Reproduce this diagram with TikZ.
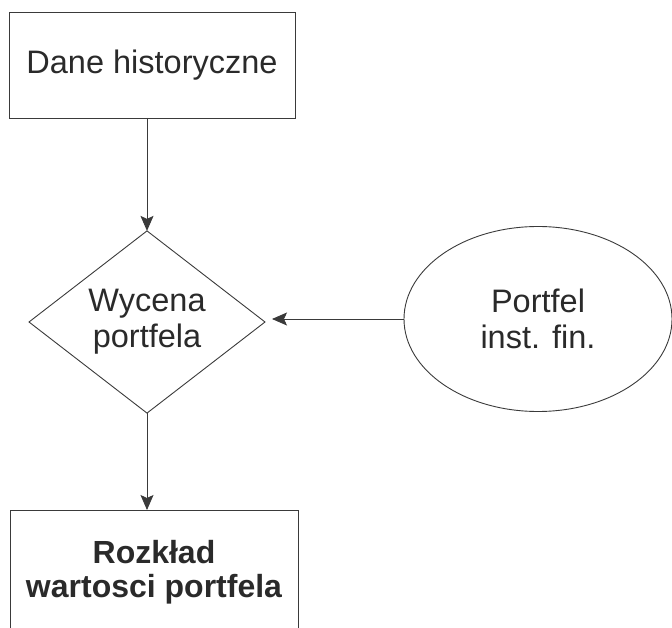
\documentclass[tikz,border=0pt]{standalone}
\usepackage{fontspec}
\setmainfont{Liberation Sans}
\usetikzlibrary{shapes.geometric,arrows.meta}
\definecolor{ink}{HTML}{3A3A3A}
\definecolor{txt}{HTML}{2A2A2A}
\tikzset{
  base/.style={draw=ink, line width=0.9pt, text=txt, inner sep=0pt, outer sep=0pt, align=center,
               font=\fontsize{32.5}{36}\selectfont},
  boxnode/.style={base, rectangle},
  dianode/.style={base, diamond, minimum width=236pt, minimum height=182pt},
  ellnode/.style={base, ellipse, minimum width=268pt, minimum height=185pt},
  conn/.style={draw=ink, line width=0.9pt, -{Stealth[length=15pt,width=13pt,inset=3pt]}},
}
\begin{document}
\begin{tikzpicture}[x=1pt,y=-1pt]
\path[use as bounding box, clip] (0,0) rectangle (672,628);
\node[boxnode, minimum width=286pt, minimum height=106pt] (hist) at (152,65) {Dane historyczne};
\node[dianode] (wyc) at (147,322) {Wycena\\portfela};
\node[ellnode] (port) at (538,319) {Portfel\\inst. fin.};
\node[boxnode, minimum width=288pt, minimum height=124pt, font=\fontsize{32}{34}\selectfont\bfseries] (rozk) at (154,572) {Rozkład\\wartosci portfela};
\draw[conn] (wyc.north |- hist.south) -- (wyc.north);
\draw[conn] (port.west) -- ([xshift=7pt]wyc.east |- port.west);
\draw[conn] (wyc.south) -- (wyc.south |- rozk.north);
\end{tikzpicture}
\end{document}
